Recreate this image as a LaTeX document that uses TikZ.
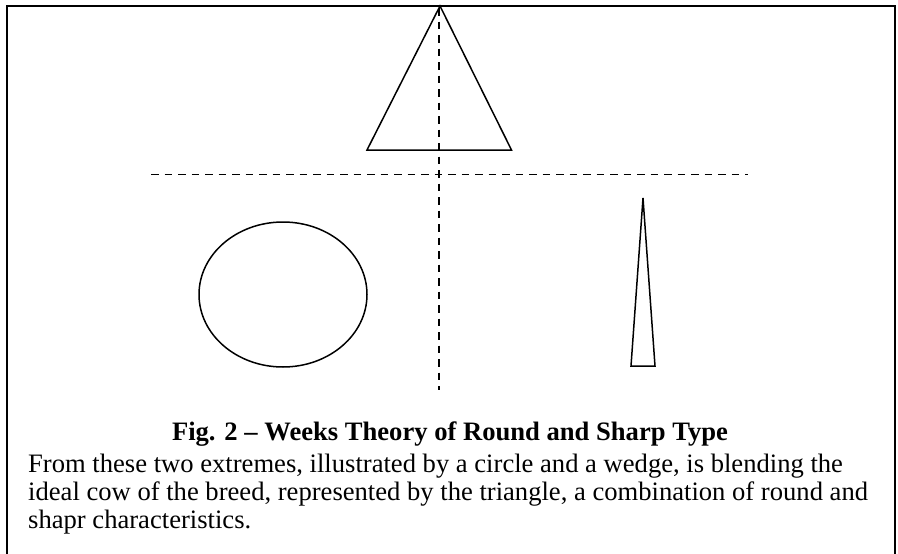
\documentclass[tikz,border=0pt]{standalone}
\usepackage{fontspec}
\setmainfont{Liberation Serif}
\usetikzlibrary{positioning}

\tikzset{
  shape line/.style={black,line width=1.5pt},
  guide line/.style={black,line width=1.6pt,dash pattern=on 7.5pt off 6pt},
  fig text/.style={font=\fontsize{26.6}{28}\selectfont},
  fig title/.style={font=\fontsize{26.6}{28}\selectfont\bfseries}
}

\begin{document}
\begin{tikzpicture}[x=1pt,y=-1pt]
  \useasboundingbox (0,0) rectangle (898,554);
  % Frame
  \draw[black,line width=2pt] (7,560) -- (7,6) -- (895,6) -- (895,560);
  % Guides
  \draw[guide line] (151,174.5) -- (748,174.5);
  \draw[guide line] (439,8) -- (439,390);
  % Triangle
  \draw[shape line,line join=miter] (440,6) -- (511.5,150) -- (367,150) -- cycle;
  % Circle
  \draw[shape line] (283,294.5) ellipse (84 and 72.5);
  % Wedge
  \draw[shape line,line join=miter] (643,198) -- (655,366) -- (631,366) -- cycle;
  % Caption
  \node[fig title,anchor=base] (title) at (450,440)
    {Fig. 2 -- Weeks Theory of Round and Sharp Type};
  \node[fig text,anchor=north west,inner sep=0pt,align=left]
    (body) at (28,453.5)
    {From these two extremes, illustrated by a circle and a wedge, is blending the\\
     ideal cow of the breed, represented by the triangle, a combination of round and\\
     shapr characteristics.};
\end{tikzpicture}
\end{document}
